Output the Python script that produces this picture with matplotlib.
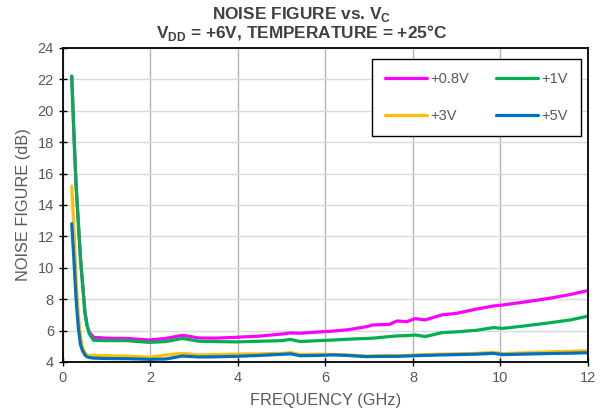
import matplotlib
matplotlib.use("Agg")
import matplotlib.pyplot as plt

plt.rcParams['font.family'] = ['Liberation Sans', 'DejaVu Sans']
plt.rcParams['mathtext.fontset'] = 'custom'
plt.rcParams['mathtext.rm'] = 'Liberation Sans'
plt.rcParams['mathtext.bf'] = 'Liberation Sans:bold'

# frequency (GHz)
freq = [0.2, 0.25, 0.3, 0.35, 0.4, 0.45, 0.5, 0.55, 0.6, 0.7, 1.0, 1.45, 1.97, 2.35, 2.73,
        3.11, 3.5, 3.94, 4.5, 5.0, 5.2, 5.42, 5.83, 6.18, 6.5, 6.94, 7.09, 7.47, 7.63, 7.86,
        8.05, 8.28, 8.66, 9.0, 9.45, 9.84, 10.05, 10.5, 11.13, 11.6, 12.0]

# noise figure (dB) per Vc
nf_08 = [22.2, 18.5, 15.2, 12.9, 10.6, 8.9, 7.2, 6.35, 5.9, 5.57, 5.52, 5.5, 5.4, 5.5, 5.7,
         5.53, 5.52, 5.57, 5.65, 5.78, 5.85, 5.83, 5.91, 5.97, 6.05, 6.25, 6.36, 6.4, 6.61, 6.57,
         6.76, 6.68, 7.0, 7.1, 7.37, 7.57, 7.63, 7.8, 8.06, 8.3, 8.55]
nf_1 = [22.2, 18.5, 15.2, 12.9, 10.6, 8.9, 7.2, 6.3, 5.8, 5.38, 5.36, 5.36, 5.25, 5.3, 5.5,
        5.32, 5.3, 5.28, 5.32, 5.36, 5.44, 5.3, 5.36, 5.4, 5.45, 5.5, 5.52, 5.62, 5.66, 5.68,
        5.72, 5.62, 5.87, 5.92, 6.02, 6.19, 6.14, 6.28, 6.5, 6.68, 6.92]
nf_3 = [15.2, 12.5, 9.3, 7.0, 5.6, 4.9, 4.6, 4.45, 4.42, 4.42, 4.4, 4.38, 4.3, 4.45, 4.55,
        4.45, 4.47, 4.5, 4.52, 4.55, 4.6, 4.47, 4.5, 4.48, 4.45, 4.38, 4.4, 4.42, 4.4, 4.42,
        4.45, 4.47, 4.5, 4.52, 4.55, 4.62, 4.53, 4.58, 4.65, 4.68, 4.72]
nf_5 = [12.8, 10.5, 8.0, 6.2, 5.1, 4.7, 4.45, 4.33, 4.28, 4.25, 4.22, 4.21, 4.17, 4.19, 4.38,
        4.32, 4.33, 4.36, 4.42, 4.49, 4.52, 4.4, 4.42, 4.45, 4.42, 4.34, 4.35, 4.36, 4.36, 4.38,
        4.4, 4.42, 4.45, 4.47, 4.5, 4.55, 4.47, 4.5, 4.54, 4.56, 4.59]

labels = ['+0.8V', '+1V', '+3V', '+5V']
colors = ['#FF00FF', '#00B050', '#FFC000', '#0070C0']

fig = plt.figure(figsize=(6.04, 4.17), dpi=100)
ax = fig.add_axes([0.1043, 0.1319, 0.8692, 0.7532])

lines = {}
for lab, ys, c in zip(labels, [nf_08, nf_1, nf_3, nf_5], colors):
    lines[lab], = ax.plot(freq, ys, color=c, lw=2.3, label=lab, solid_capstyle='round')

ax.set_xlim(0, 12)
ax.set_ylim(4, 24)
ax.set_xticks(range(0, 13, 2))
ax.set_yticks(range(4, 25, 2))
ax.xaxis.grid(True, color='#b3b3b3', lw=1.0)
ax.yaxis.grid(True, color='#d9d9d9', lw=1.0)
ax.set_axisbelow(True)
for s in ax.spines.values():
    s.set_color('black')
    s.set_linewidth(1.3)
ax.tick_params(direction='inout', length=6, width=1, color='black',
               labelcolor='#595959', labelsize=10.5)

ax.set_xlabel('FREQUENCY (GHz)', color='#595959', fontsize=11.8, labelpad=6)
ax.set_ylabel('NOISE FIGURE (dB)', color='#595959', fontsize=11.8, labelpad=5)

# title is centred on the figure, not on the axes
ax.set_title('NOISE FIGURE vs. V$_\\mathbf{C}$\n'
             'V$_\\mathbf{DD}$ = +6V, TEMPERATURE = +25°C',
             fontsize=12.4, fontweight='bold', color='#404040', pad=7,
             linespacing=0.95, x=0.455)

order = ['+0.8V', '+3V', '+1V', '+5V']
leg = ax.legend([lines[k] for k in order], order, ncol=2, loc='upper right',
                bbox_to_anchor=(0.9867, 0.965), borderaxespad=0, frameon=True,
                fancybox=False, edgecolor='black', framealpha=1, fontsize=10.5,
                labelspacing=1.55, handlelength=2.9, handletextpad=0.22,
                columnspacing=1.85, borderpad=0.9)
leg.get_frame().set_linewidth(1.0)
for t in leg.get_texts():
    t.set_color('#595959')

fig.savefig('out.png', dpi=100)
